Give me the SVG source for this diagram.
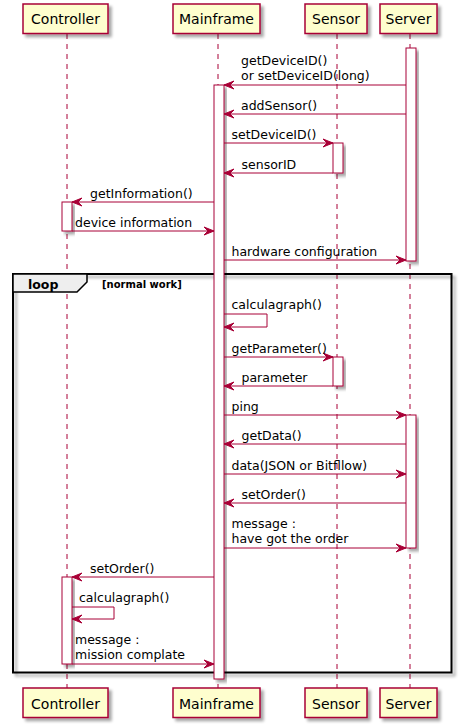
<svg xmlns="http://www.w3.org/2000/svg" width="461" height="728" viewBox="0 0 461 728">
<defs>
<filter id="sh" x="-20%" y="-20%" width="150%" height="150%">
<feGaussianBlur in="SourceAlpha" stdDeviation="1.5"/>
<feOffset dx="3" dy="3" result="o"/>
<feComponentTransfer><feFuncA type="linear" slope="0.35"/></feComponentTransfer>
<feMerge><feMergeNode/><feMergeNode in="SourceGraphic"/></feMerge>
</filter>
</defs>
<style>
.p{fill:#FEFECE;stroke:#A80036;stroke-width:1.5;filter:url(#sh)}
.pt{font-family:"DejaVu Sans",sans-serif;font-size:14px;fill:#000;text-anchor:middle}
.ll{stroke:#A80036;stroke-width:1;stroke-dasharray:5,5}
.bar{fill:#FFFFFF;stroke:#A80036;stroke-width:1;filter:url(#sh)}
.m{stroke:#A80036;stroke-width:1;fill:none}
.ah{fill:#A80036;stroke:#A80036;stroke-width:1}
.t{font-family:"DejaVu Sans",sans-serif;font-size:12.5px;fill:#000}
.fr{fill:none;stroke:#000;stroke-width:2;filter:url(#sh)}
.tab{fill:#EEEEEE;stroke:#000;stroke-width:1.5}
.lt{font-family:"DejaVu Sans",sans-serif;font-size:12.5px;font-weight:bold;fill:#000}
.gt{font-family:"DejaVu Sans",sans-serif;font-size:10px;font-weight:bold;fill:#000}
</style>
<g id="lifelines">
<line class="ll" x1="67" y1="34" x2="67" y2="688"/>
<line class="ll" x1="218" y1="34" x2="218" y2="688"/>
<line class="ll" x1="337" y1="34" x2="337" y2="688"/>
<line class="ll" x1="410" y1="34" x2="410" y2="688"/>
</g>
<g id="loop">
<rect class="fr" x="13" y="274" width="438.5" height="398.5"/>
<polygon class="tab" points="13,274 87,274 87,282 77,292 13,292"/>
<text class="lt" x="28" y="288.5">loop</text>
<text class="gt" x="102" y="288">[normal work]</text>
</g>
<g id="activations">
<rect class="bar" x="406" y="48" width="10" height="213"/>
<rect class="bar" x="214" y="85" width="10" height="594"/>
<rect class="bar" x="333" y="143" width="10" height="30"/>
<rect class="bar" x="62" y="202" width="10" height="29"/>
<rect class="bar" x="333" y="357" width="10" height="29"/>
<rect class="bar" x="406" y="415" width="10" height="133"/>
<rect class="bar" x="62" y="577" width="10" height="87"/>
</g>
<g id="Controller">
<rect class="p" x="23" y="4" width="85" height="29.5"/>
<text class="pt" x="65.5" y="24">Controller</text>
<rect class="p" x="23" y="688" width="85" height="29.5"/>
<text class="pt" x="65.5" y="708.5">Controller</text>
</g>
<g id="Mainframe">
<rect class="p" x="173" y="4" width="87" height="29.5"/>
<text class="pt" x="216.5" y="24">Mainframe</text>
<rect class="p" x="173" y="688" width="87" height="29.5"/>
<text class="pt" x="216.5" y="708.5">Mainframe</text>
</g>
<g id="Sensor">
<rect class="p" x="305" y="4" width="62" height="29.5"/>
<text class="pt" x="336" y="24">Sensor</text>
<rect class="p" x="305" y="688" width="62" height="29.5"/>
<text class="pt" x="336" y="708.5">Sensor</text>
</g>
<g id="Server">
<rect class="p" x="380" y="4" width="57" height="29.5"/>
<text class="pt" x="408.5" y="24">Server</text>
<rect class="p" x="380" y="688" width="57" height="29.5"/>
<text class="pt" x="408.5" y="708.5">Server</text>
</g>
<g id="connectors">
<line class="m" x1="406" y1="85" x2="224" y2="85"/><polygon class="ah" points="234,81 224,85 234,89 230,85"/>
<text class="t" x="241" y="64.5">getDeviceID()</text>
<text class="t" x="241" y="80">or setDeviceID(long)</text>

<line class="m" x1="406" y1="114" x2="224" y2="114"/><polygon class="ah" points="234,110 224,114 234,118 230,114"/>
<text class="t" x="241" y="109.5">addSensor()</text>

<line class="m" x1="224" y1="143" x2="333" y2="143"/><polygon class="ah" points="323,139 333,143 323,147 327,143"/>
<text class="t" x="231.5" y="138.5">setDeviceID()</text>

<line class="m" x1="333" y1="173" x2="224" y2="173"/><polygon class="ah" points="234,169 224,173 234,177 230,173"/>
<text class="t" x="241.5" y="168.5">sensorID</text>

<line class="m" x1="214" y1="202" x2="72" y2="202"/><polygon class="ah" points="82,198 72,202 82,206 78,202"/>
<text class="t" x="90" y="197.5">getInformation()</text>

<line class="m" x1="72" y1="231" x2="214" y2="231"/><polygon class="ah" points="204,227 214,231 204,235 208,231"/>
<text class="t" x="75" y="226.5">device information</text>

<line class="m" x1="224" y1="260" x2="406" y2="260"/><polygon class="ah" points="396,256 406,260 396,264 400,260"/>
<text class="t" x="231.5" y="255.5">hardware configuration</text>

<polyline class="m" points="224,314 267,314 267,327 224,327"/><polygon class="ah" points="234,323 224,327 234,331 230,327"/>
<text class="t" x="231.5" y="309">calculagraph()</text>

<line class="m" x1="224" y1="357" x2="333" y2="357"/><polygon class="ah" points="323,353 333,357 323,361 327,357"/>
<text class="t" x="231.5" y="352.5">getParameter()</text>

<line class="m" x1="333" y1="386" x2="224" y2="386"/><polygon class="ah" points="234,382 224,386 234,390 230,386"/>
<text class="t" x="241.5" y="381.5">parameter</text>

<line class="m" x1="224" y1="415" x2="406" y2="415"/><polygon class="ah" points="396,411 406,415 396,419 400,415"/>
<text class="t" x="231.5" y="410.5">ping</text>

<line class="m" x1="406" y1="444" x2="224" y2="444"/><polygon class="ah" points="234,440 224,444 234,448 230,444"/>
<text class="t" x="241.5" y="439.5">getData()</text>

<line class="m" x1="224" y1="474" x2="406" y2="474"/><polygon class="ah" points="396,470 406,474 396,478 400,474"/>
<text class="t" x="231.5" y="469.5">data(JSON or Bitfllow)</text>

<line class="m" x1="406" y1="503" x2="224" y2="503"/><polygon class="ah" points="234,499 224,503 234,507 230,503"/>
<text class="t" x="241.5" y="498.5">setOrder()</text>

<line class="m" x1="224" y1="548" x2="406" y2="548"/><polygon class="ah" points="396,544 406,548 396,552 400,548"/>
<text class="t" x="231.5" y="527.5">message :</text>
<text class="t" x="231.5" y="543">have got the order</text>

<line class="m" x1="214" y1="577" x2="72" y2="577"/><polygon class="ah" points="82,573 72,577 82,581 78,577"/>
<text class="t" x="90" y="572.5">setOrder()</text>

<polyline class="m" points="72,607 114,607 114,619 72,619"/><polygon class="ah" points="82,615 72,619 82,623 78,619"/>
<text class="t" x="79" y="602">calculagraph()</text>

<line class="m" x1="72" y1="664" x2="214" y2="664"/><polygon class="ah" points="204,660 214,664 204,668 208,664"/>
<text class="t" x="75" y="643.5">message :</text>
<text class="t" x="75" y="659">mission complate</text>
</g>
</svg>
